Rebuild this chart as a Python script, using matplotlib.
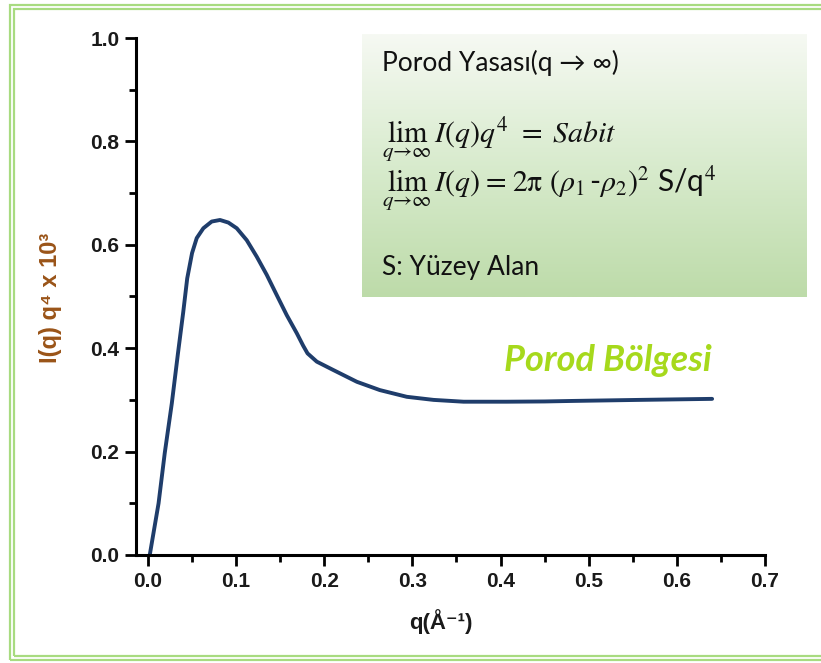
import numpy as np
import matplotlib
matplotlib.use("Agg")
import matplotlib.pyplot as plt
from matplotlib.patches import Rectangle
from matplotlib.colors import LinearSegmentedColormap

# curve
q = [0.002, 0.012, 0.019, 0.027, 0.034, 0.040, 0.0445, 0.050, 0.0553,
     0.0628, 0.0723, 0.0817, 0.0912, 0.1007, 0.112, 0.1234, 0.1347, 0.146,
     0.1574, 0.1688, 0.176, 0.181, 0.1915, 0.210, 0.237, 0.263, 0.2936,
     0.324, 0.358, 0.407, 0.450, 0.482, 0.557, 0.640]
Iq4 = [0.0, 0.100, 0.197, 0.293, 0.390, 0.470, 0.535, 0.584, 0.613,
       0.632, 0.645, 0.648, 0.643, 0.632, 0.609, 0.577, 0.542, 0.503,
       0.464, 0.429, 0.405, 0.390, 0.374, 0.358, 0.335, 0.319, 0.306,
       0.300, 0.2965, 0.2965, 0.297, 0.298, 0.300, 0.302]

xticks = [0.0, 0.1, 0.2, 0.3, 0.4, 0.5, 0.6, 0.7]
yticks = [0.0, 0.2, 0.4, 0.6, 0.8, 1.0]

W, H = 821, 663
fig = plt.figure(figsize=(W / 100, H / 100), dpi=100)

# green double border (open on the right)
for off in (0, 4):
    fig.add_artist(Rectangle(((9.5 + off) / W, (3 + off) / H),
                             1.2, (H - 6 - 2 * off - 2) / H,
                             transform=fig.transFigure, fill=False,
                             edgecolor="#a8db80", lw=1.6))

ax = fig.add_axes([136 / W, 1 - 555 / H, (765 - 136) / W, (555 - 38) / H])
ax.plot(q, Iq4, color="#1f3d6b", lw=2.8, solid_capstyle="round",
        solid_joinstyle="round")
ax.set_xlim(-0.0136, 0.7)
ax.set_ylim(0, 1.0)
ax.set_xticks(xticks)
ax.set_yticks(yticks)
ax.set_xticks(np.arange(0.05, 0.7, 0.1), minor=True)
ax.set_yticks(np.arange(0.1, 1.0, 0.2), minor=True)
ax.set_xticklabels(["%.1f" % v for v in xticks])
ax.set_yticklabels(["%.1f" % v for v in yticks])
for s in ("top", "right"):
    ax.spines[s].set_visible(False)
for s in ("left", "bottom"):
    ax.spines[s].set_linewidth(2.2)
ax.tick_params(which="major", length=8, width=2, direction="out", pad=4,
               labelsize=15)
ax.tick_params(which="minor", length=5, width=2, direction="out")
for lab in ax.get_xticklabels() + ax.get_yticklabels():
    lab.set_family(["Liberation Sans", "DejaVu Sans"])
    lab.set_fontweight("bold")
    lab.set_color("#1a1a1a")

fig.text(50 / W, 1 - 298 / H, "I(q) q⁴ x 10³", rotation=90, ha="center",
         va="center", fontsize=17, fontweight="bold", color="#9a5418",
         family=["Liberation Sans", "DejaVu Sans"])
fig.text(441 / W, 1 - 622 / H, "q(Å⁻¹)", ha="center", va="center",
         fontsize=16, fontweight="bold", color="#1a1a1a",
         family=["Liberation Sans", "DejaVu Sans"])

ax.text(0.522, 0.377, "Porod Bölgesi", ha="center", va="center",
        fontsize=26, fontweight="bold", style="italic", color="#a6d91c",
        family="Lato")

# gradient info box
bx = fig.add_axes([362 / W, 1 - 297 / H, 444 / W, 263 / H])
cmap = LinearSegmentedColormap.from_list("g", ["#f6f9f3", "#d8ebcd", "#bddba9"])
bx.imshow(np.linspace(0, 1, 256).reshape(-1, 1), aspect="auto", cmap=cmap,
          extent=[0, 1, 0, 1])
bx.set_axis_off()

tx = 382 / W
sans = ["Lato", "DejaVu Sans"]
fig.text(tx, 1 - 63 / H, "Porod Yasası(q → ∞)", ha="left", va="center",
         fontsize=19, family=sans, color="#111111")
fig.text(tx, 1 - 142 / H, r"$\lim_{q\to\infty}\, I(q)q^4 \;=\; Sabit$",
         ha="left", va="baseline", fontsize=21.5, math_fontfamily="stix",
         color="#111111")
fig.text(tx, 1 - 191 / H,
         r"$\lim_{q\to\infty}\, I(q) \;=\; 2\mathrm{\pi}\ (\rho_1$-$\rho_2)^2$ S/q$^4$",
         ha="left", va="baseline", fontsize=21.5, math_fontfamily="stix",
         family=sans, color="#111111")
fig.text(tx, 1 - 268 / H, "S: Yüzey Alan", ha="left", va="center",
         fontsize=19, family=sans, color="#111111")

fig.savefig("out.png", dpi=100)
